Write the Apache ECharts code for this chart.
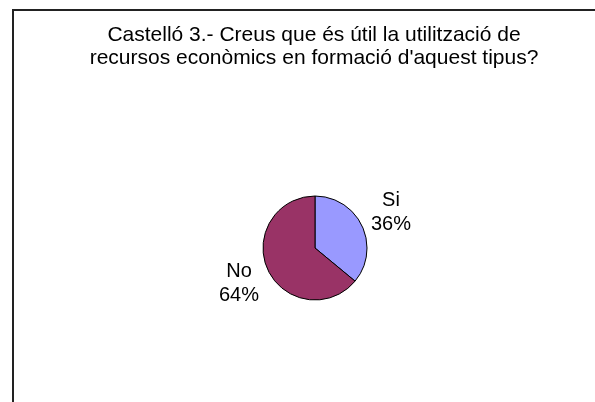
<!DOCTYPE html>
<html>
<head>
<meta charset="utf-8">
<script src="https://cdn.jsdelivr.net/npm/echarts@6/dist/echarts.min.js"></script>
<style>
  html, body { margin: 0; padding: 0; background: #fff; }
  #main { width: 595px; height: 402px; }
</style>
</head>
<body>
<div id="main"></div>
<script>
const titleText = "Castelló 3.- Creus que és útil la utilització de\nrecursos econòmics en formació d'aquest tipus?"
const categories = ['Si', 'No']
const values = [36, 64]
const colors = ['#9999FF', '#993366']

const font = '"Liberation Sans", Arial, sans-serif'

const myChart = echarts.init(document.getElementById('main'))

const option = {
  animation: false,
  backgroundColor: '#fff',
  graphic: [{
    // chart area frame, runs off the right and bottom edges
    type: 'rect',
    shape: { x: 13, y: 10, width: 700, height: 500 },
    style: { fill: 'none', stroke: '#222', lineWidth: 2 },
    silent: true
  }],
  title: {
    text: titleText,
    left: 314,
    top: 24,
    padding: 0,
    textAlign: 'center',
    textStyle: {
      fontFamily: font,
      fontSize: 21,
      fontWeight: 'normal',
      color: '#000',
      lineHeight: 23
    }
  },
  series: [{
    type: 'pie',
    center: [315, 248],
    radius: 52,
    startAngle: 90,
    clockwise: true,
    avoidLabelOverlap: false,
    itemStyle: { borderColor: '#000', borderWidth: 1 },
    label: {
      position: 'outside',
      distanceToLabelLine: -25,
      formatter: p => '{a|' + p.name + '}\n{a|' + Math.round(p.percent) + '%}',
      rich: {
        a: {
          width: 50,
          align: 'center',
          fontFamily: font,
          fontSize: 20,
          lineHeight: 24,
          color: '#000'
        }
      }
    },
    labelLine: { show: false, length: 32, length2: 0 },
    emphasis: { disabled: true },
    data: categories.map((name, i) => ({
      name: name,
      value: values[i],
      itemStyle: { color: colors[i] }
    }))
  }]
}

myChart.setOption(option)
</script>
</body>
</html>
